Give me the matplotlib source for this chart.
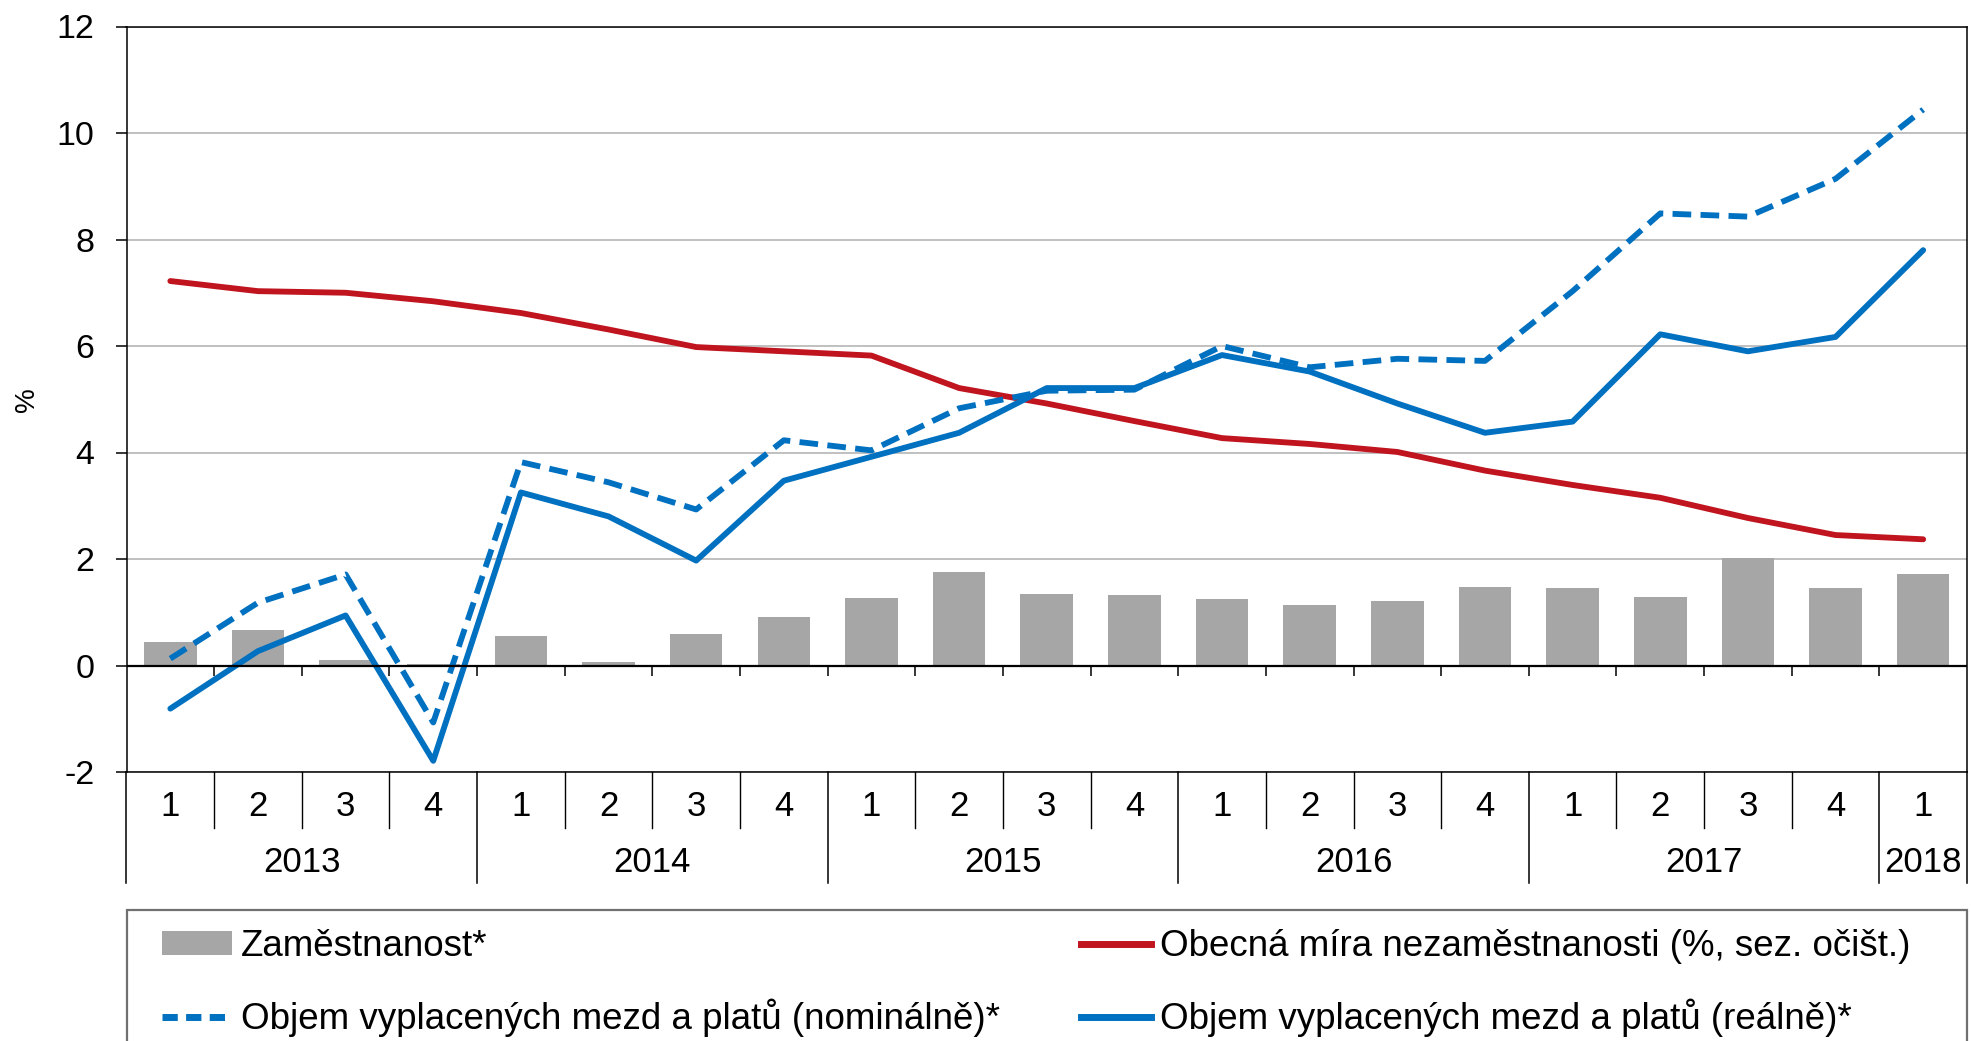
import numpy as np
import matplotlib
matplotlib.use("Agg")
import matplotlib.pyplot as plt
import matplotlib.transforms as mtransforms
from matplotlib.patches import Patch, Rectangle
from matplotlib.lines import Line2D

plt.rcParams['font.family'] = ['Liberation Sans', 'DejaVu Sans']
plt.rcParams['axes.unicode_minus'] = False

quarters = ['1', '2', '3', '4'] * 5 + ['1']
years = ['2013', '2014', '2015', '2016', '2017', '2018']
year_counts = [4, 4, 4, 4, 4, 1]

employment = [0.44, 0.66, 0.11, 0.03, 0.56, 0.06, 0.59, 0.92, 1.26, 1.75, 1.34,
              1.33, 1.24, 1.14, 1.22, 1.47, 1.45, 1.28, 2.01, 1.46, 1.71]
unemployment = [7.22, 7.03, 7.00, 6.84, 6.62, 6.31, 5.98, 5.90, 5.82, 5.21, 4.92,
                4.59, 4.27, 4.16, 4.01, 3.66, 3.39, 3.15, 2.77, 2.45, 2.37]
wages_nominal = [0.13, 1.18, 1.71, -1.07, 3.82, 3.44, 2.93, 4.23, 4.04, 4.83, 5.16,
                 5.18, 6.00, 5.60, 5.76, 5.72, 7.03, 8.49, 8.43, 9.14, 10.44]
wages_real = [-0.81, 0.27, 0.94, -1.79, 3.25, 2.80, 1.97, 3.47, 3.92, 4.37, 5.21,
              5.21, 5.83, 5.52, 4.92, 4.37, 4.58, 6.22, 5.90, 6.17, 7.80]

labels = ['Zaměstnanost*',
          'Objem vyplacených mezd a platů (nominálně)*',
          'Obecná míra nezaměstnanosti (%, sez. očišt.)',
          'Objem vyplacených mezd a platů (reálně)*']

W, H = 1971, 1041
fig = plt.figure(figsize=(W / 100, H / 100), dpi=100)
L, R, T, B = 126.5, 1967, 26.5, 772
ax = fig.add_axes([L / W, 1 - B / H, (R - L) / W, (B - T) / H])

c_bar = '#A6A6A6'
c_red = '#C0141F'
c_blue = '#0070C0'
lw = 4.2

x = np.arange(len(quarters))
ax.bar(x, employment, width=0.6, color=c_bar, zorder=2)
ax.plot(x, unemployment, color=c_red, lw=lw, zorder=4, solid_capstyle='round')
ax.plot(x, wages_nominal, color=c_blue, lw=lw, ls=(0, (3.2, 1.6)), zorder=4,
        dash_capstyle='butt')
ax.plot(x, wages_real, color=c_blue, lw=lw, zorder=5, solid_capstyle='round')

ax.set_xlim(-0.5, len(quarters) - 0.5)
ax.set_ylim(-2, 12)
ax.set_yticks(np.arange(-2, 13, 2))
ax.set_xticks([])
ax.yaxis.grid(True, color='#C0C0C0', lw=1.4, zorder=0)
ax.set_axisbelow(True)
ax.tick_params(axis='y', labelsize=24.5, length=8, width=1.1, pad=15, direction='out')
for s in ax.spines.values():
    s.set_linewidth(1.1)
    s.set_color('black')
ax.set_ylabel('%', fontsize=20)
ax.yaxis.set_label_coords(-(L - 40) / (R - L), 0.5)

# zero line and its boundary ticks
ax.axhline(0, color='black', lw=1.6, zorder=6)
ax.vlines(x[:-1] + 0.5, -0.19, 0, color='black', lw=1.1, zorder=6)

# category table below the axis
trans = mtransforms.blended_transform_factory(ax.transData, ax.transAxes)
h = B - T
q_bot = -(828 - B) / h
y_bot = -(883 - B) / h
q_lab = -(807 - B) / h
y_lab = -(862 - B) / h
year_edges = np.concatenate([[0], np.cumsum(year_counts)]) - 0.5
for i in range(len(quarters)):
    ax.text(x[i], q_lab, quarters[i], transform=trans, ha='center', va='center',
            fontsize=25)
for b in x[:-1] + 0.5:
    if b in year_edges:
        continue
    ax.plot([b, b], [0, q_bot], transform=trans, color='black', lw=1.0,
            clip_on=False)
for e in year_edges:
    ax.plot([e, e], [0, y_bot], transform=trans, color='black', lw=1.1,
            clip_on=False)
for i, yr in enumerate(years):
    cx = (year_edges[i] + year_edges[i + 1]) / 2
    ax.text(cx, y_lab, yr, transform=trans, ha='center', va='center', fontsize=25)

# legend box
fig.patches.append(Rectangle((127 / W, -0.05), (R - 127) / W, 0.05 + 1 - 910 / H,
                             transform=fig.transFigure, fill=False,
                             edgecolor='#707070', lw=1.6))
handles = [Patch(facecolor=c_bar, edgecolor='none'),
           Line2D([], [], color=c_blue, lw=5, ls=(0, (2.2, 1.2))),
           Line2D([], [], color=c_red, lw=5),
           Line2D([], [], color=c_blue, lw=5)]
leg = fig.legend(handles, labels, ncol=2, loc='upper left',
                 bbox_to_anchor=(162 / W, 1 - 929 / H), frameon=False,
                 fontsize=26.5, handlelength=1.9, handleheight=0.6,
                 handletextpad=0.25, columnspacing=2.2, labelspacing=0.95,
                 borderpad=0, borderaxespad=0)

fig.savefig('out.png', dpi=100)
